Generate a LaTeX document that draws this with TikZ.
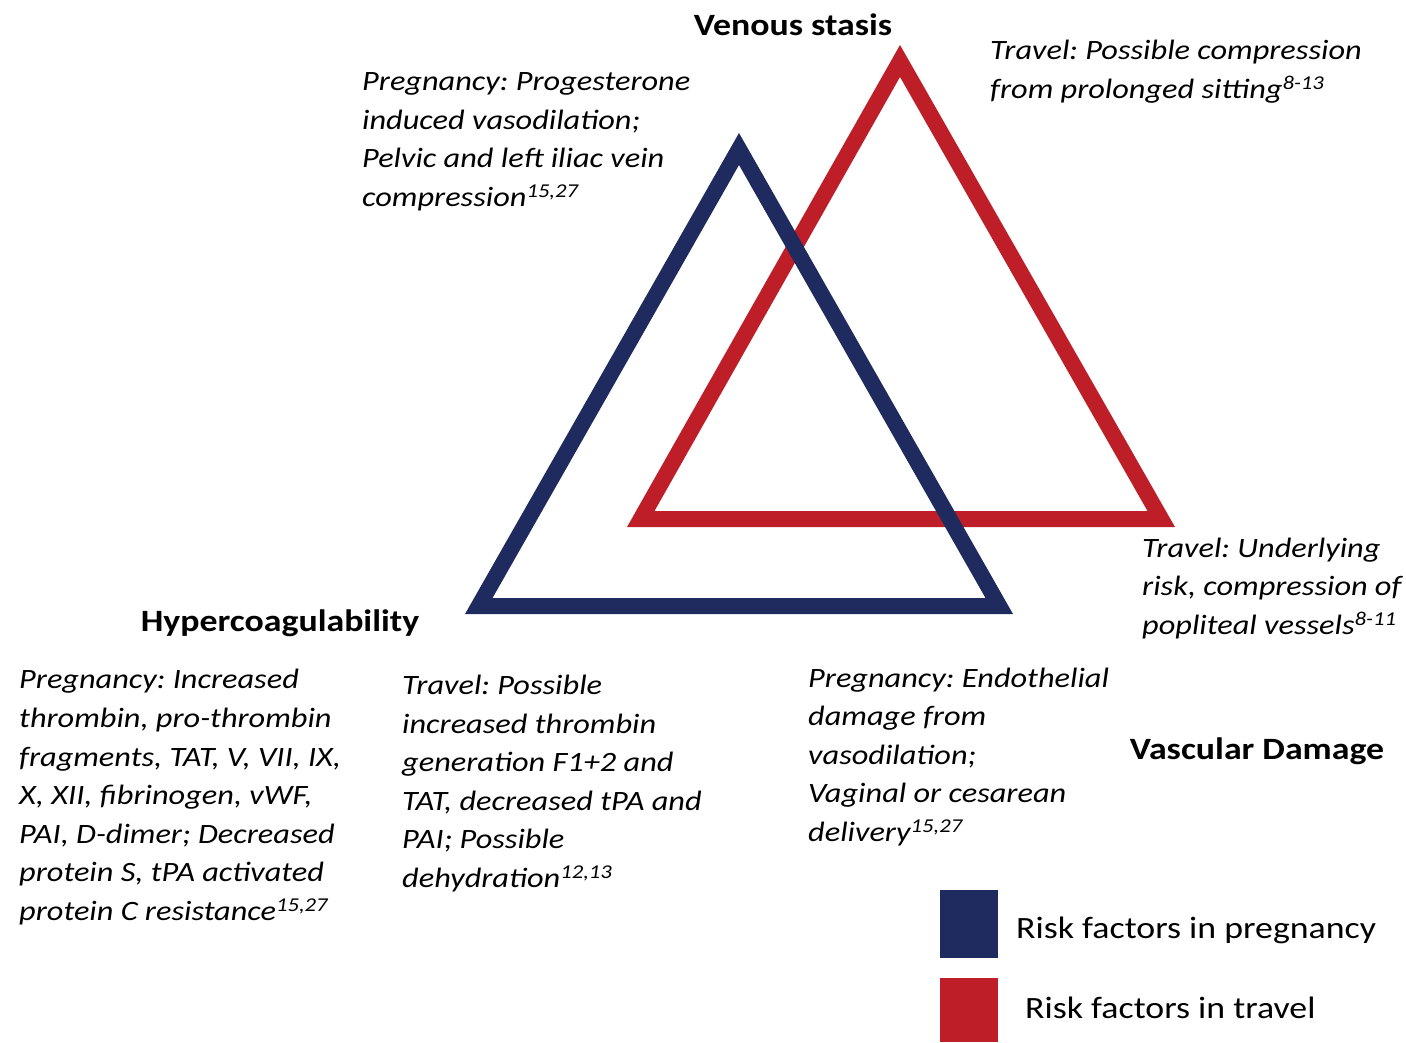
\documentclass[tikz,border=0pt]{standalone}
\usepackage{fontspec}
\setmainfont{Carlito}[FakeStretch=1.155]
\usepackage{tikz}
\usetikzlibrary{positioning}
\frenchspacing

\definecolor{pregblue}{RGB}{31,42,94}
\definecolor{travred}{RGB}{190,30,39}

\begin{document}
\begin{tikzpicture}[x=1pt,y=-1pt,
  note/.style={anchor=base west, align=left, inner sep=0pt,
    font=\itshape\fontsize{28}{38.6}\selectfont},
  heading/.style={anchor=base, inner sep=0pt,
    font=\bfseries\fontsize{31}{36}\selectfont},
  legendtext/.style={anchor=base west, inner sep=0pt,
    font=\fontsize{31}{36}\selectfont}]
\useasboundingbox (0,0) rectangle (1406,1042);
% Travel triangle (red), drawn first
\fill[travred, even odd rule] (900,45) -- (1175,527) -- (627,527) -- cycle
  (900,77) -- (1147.5,511) -- (654.5,511) -- cycle;
% Pregnancy triangle (blue) on top
\fill[pregblue, even odd rule] (739,133) -- (1013,614) -- (465,614) -- cycle
  (739,165) -- (985.5,598) -- (492.5,598) -- cycle;

% Corner titles
\node[heading] (stasis) at (793,35) {Venous stasis};
\node[heading] (hyper) at (280,631) {Hypercoagulability};
\node[heading] (damage) at (1257,759) {Vascular Damage};

% Venous stasis notes (at = baseline of last line)
\node[note] (pstasis) at (362,206.5) {Pregnancy: Progesterone\\induced vasodilation;\\Pelvic and left iliac vein\\compression\textsuperscript{15,27}};
\node[note] (tstasis) at (990,98.5) {Travel: Possible compression\\from prolonged sitting\textsuperscript{8-13}};

% Hypercoagulability notes
\node[note] (phyper) at (19,920.5) {Pregnancy: Increased\\thrombin, pro-thrombin\\fragments, TAT, V, VII, IX,\\X, XII, fibrinogen, vWF,\\PAI, D-dimer; Decreased\\protein S, tPA activated\\protein C resistance\textsuperscript{15,27}};
\node[note] (thyper) at (402,887.5) {Travel: Possible\\increased thrombin\\generation F1+2 and\\TAT, decreased tPA and\\PAI; Possible\\dehydration\textsuperscript{12,13}};

% Vascular damage notes
\node[note] (pdamage) at (808,841.5) {Pregnancy: Endothelial\\damage from\\vasodilation;\\Vaginal or cesarean\\delivery\textsuperscript{15,27}};
\node[note] (tdamage) at (1142,634.5) {Travel: Underlying\\risk, compression of\\popliteal vessels\textsuperscript{8-11}};

% Legend
\fill[pregblue] (940,890) rectangle (998,958);
\fill[travred] (940,978) rectangle (998,1042);
\node[legendtext] (lpreg) at (1016,938) {Risk factors in pregnancy};
\node[legendtext] (ltrav) at (1025,1018) {Risk factors in travel};
\end{tikzpicture}
\end{document}
